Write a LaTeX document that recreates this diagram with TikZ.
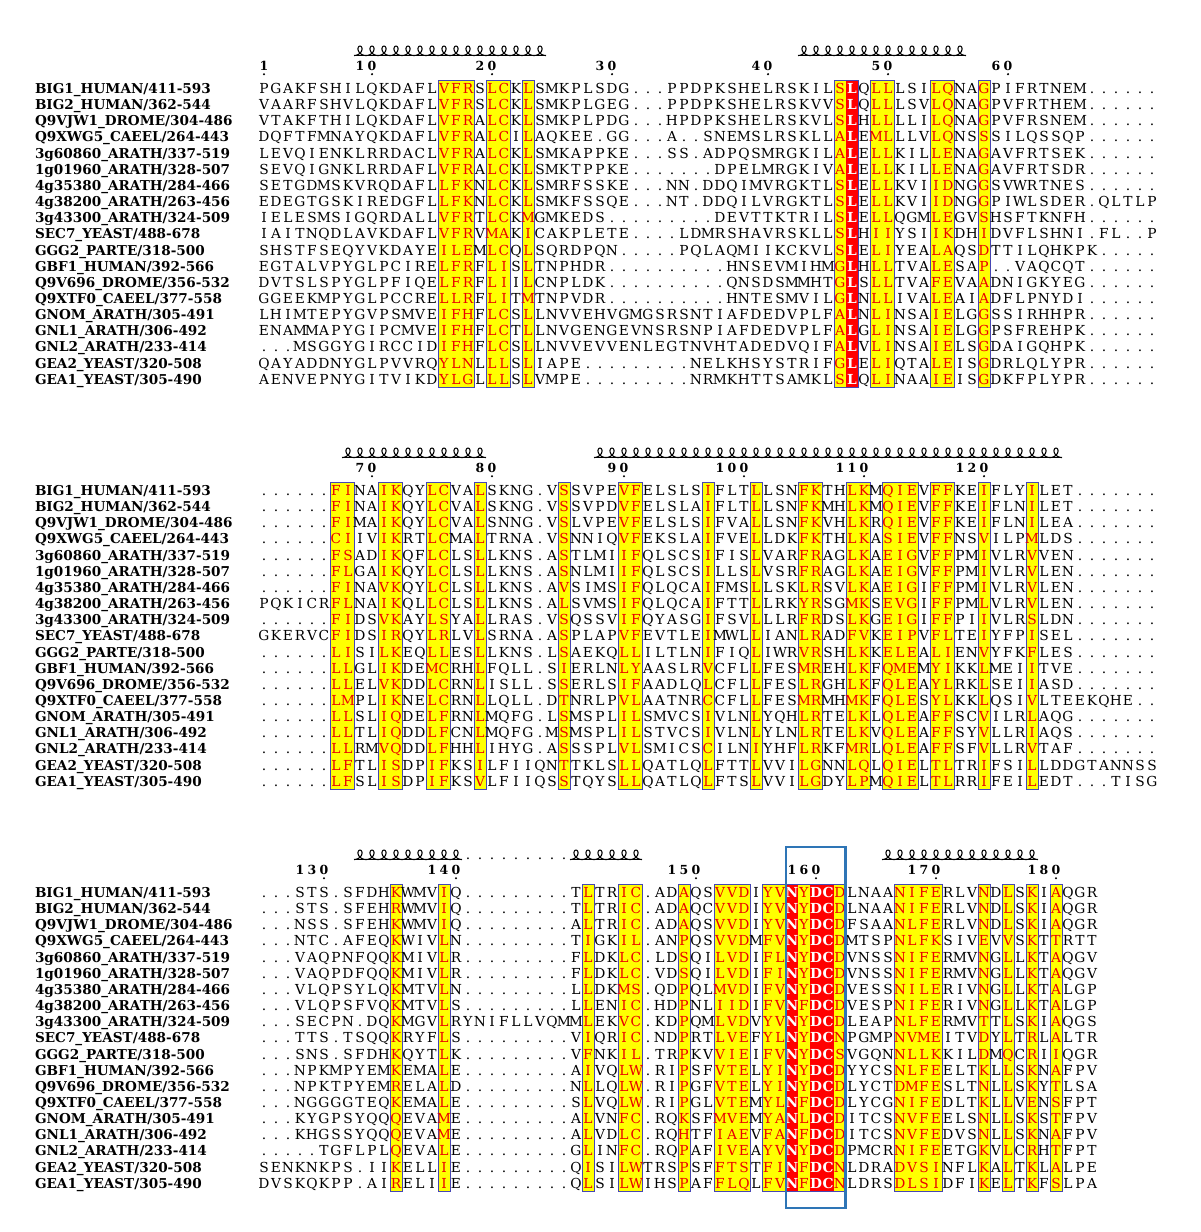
\documentclass[tikz,border=0pt]{standalone}
\usepackage{fontspec}
\newfontfamily\seqfont{DejaVu Serif}
\definecolor{seqred}{RGB}{255,0,0}
\definecolor{letred}{RGB}{235,0,0}
\definecolor{seqyellow}{RGB}{255,255,0}
\definecolor{framecol}{RGB}{70,70,180}
\definecolor{bigboxcol}{RGB}{46,117,182}
\newcount\colidx
\def\cw{12pt}
\def\curblk{b1}
\def\resout#1{\makebox[\cw]{\csname rc@\curblk @\the\colidx\endcsname #1}}
\def\seqloop#1{\ifx#1\relax\else\advance\colidx by 1\relax\resout{#1}\expandafter\seqloop\fi}
\def\seqrow#1{\colidx=0\relax\expandafter\seqloop#1\relax}
\def\numloop#1{\ifx#1\relax\else\makebox[\cw]{#1}\expandafter\numloop\fi}
\def\numrow#1{\expandafter\numloop#1\relax}
\newcommand\setcols[3]{\foreach \cc in {#2}{\expandafter\gdef\csname rc@#1@\cc\endcsname{#3}}}
\setcols{b1}{16,17,18,20,21,23,49,52,53,57,58,61}{\color{letred}}
\setcols{b1}{50}{\color{white}\bfseries}
\setcols{b2}{7,8,11,12,15,16,19,26,31,32,38,42,46,47,50,51,53,54,55,57,58,61,65}{\color{letred}}
\setcols{b3}{12,16,28,31,32,36,39,40,41,43,44,46,49,54,55,56,57,61,63,65,67}{\color{letred}}
\setcols{b3}{45,47,48}{\color{white}\bfseries}
\tikzset{
  seqtext/.style={inner sep=0pt, outer sep=0pt, font=\seqfont\fontsize{13.8}{13.8}\selectfont},
  nametext/.style={inner sep=0pt, outer sep=0pt, font=\seqfont\bfseries\fontsize{13.6}{13.6}\selectfont},
  numtext/.style={inner sep=0pt, outer sep=0pt, font=\seqfont\bfseries\fontsize{12.5}{12.5}\selectfont},
  framestyle/.style={draw=framecol, line width=0.9pt},
  helixline/.style={draw=black, line width=1.1pt},
}
\newcommand\colfill[4]{\fill[#1] ({258+(#3-1)*12},{#2-12.6}) rectangle ({258+#4*12},{#2+18*16.15+3.55});}
\newcommand\colframe[3]{\draw[framestyle] ({258+(#2-1)*12},{#1-12.6}) rectangle ({258+#3*12},{#1+18*16.15+3.55});}
\newcommand\helixcoil[3]{%
  \draw[helixline] ({258+(#2-1)*12},#1) -- ({258+#3*12},#1);
  \foreach \k in {#2,...,#3}{\draw[helixline] plot[domain=0:360,samples=49,smooth,variable=\t] ({258+(\k-1)*12+12*\t/360+4.6*sin(\t)},{#1-4.7*(1-cos(\t))});}}
\newcommand\blocknumbers[2]{%
  \foreach \n/\c in {#2}{%
    \node[numtext, anchor=base east] (num-\n) at ({258+\c*12},{#1-23}) {\numrow{\n}};
    \fill ({258+(\c-0.5)*12},{#1-19.3}) circle (1.2pt);}}
\newcommand\blocknames[2]{%
  \foreach \nm [count=\i] in \namelist{%
    \node[nametext, anchor=base west] (nm#2-\i) at (35,{#1+(\i-1)*16.15}) {\nm};}}
\newcommand\sqline[4]{\node[seqtext, anchor=base west] (sq#1-#2) at (258,{#3+(#2-1)*16.15}) {\seqrow{#4}};}
\def\namelist{BIG1\_HUMAN/411-593,BIG2\_HUMAN/362-544,Q9VJW1\_DROME/304-486,Q9XWG5\_CAEEL/264-443,3g60860\_ARATH/337-519,1g01960\_ARATH/328-507,4g35380\_ARATH/284-466,4g38200\_ARATH/263-456,3g43300\_ARATH/324-509,SEC7\_YEAST/488-678,GGG2\_PARTE/318-500,GBF1\_HUMAN/392-566,Q9V696\_DROME/356-532,Q9XTF0\_CAEEL/377-558,GNOM\_ARATH/305-491,GNL1\_ARATH/306-492,GNL2\_ARATH/233-414,GEA2\_YEAST/320-508,GEA1\_YEAST/305-490}
\begin{document}
\begin{tikzpicture}[x=1pt,y=-1pt]
\useasboundingbox[fill=white] (0,0) rectangle (1200,1232);
% ================= block 1 =================
\foreach \a/\b in {16/18,20/21,23/23,49/50,52/53,57/58,61/61}{\colfill{seqyellow}{93.5}{\a}{\b}}
\colfill{seqred}{93.5}{50}{50}
\foreach \a/\b in {16/18,20/21,23/23,49/50,52/53,57/58,61/61}{\colframe{93.5}{\a}{\b}}
\helixcoil{55.5}{9}{24}
\helixcoil{55.5}{46}{59}
\blocknumbers{93.5}{1/1,10/10,20/20,30/30,40/43,50/53,60/63}
\blocknames{93.5}{a}
\def\curblk{b1}
\sqline{a}{1}{93.5}{PGAKFSHILQKDAFLVFRSLCKLSMKPLSDG...PPDPKSHELRSKILSLQLLLSILQNAGPIFRTNEM......}
\sqline{a}{2}{93.5}{VAARFSHVLQKDAFLVFRSLCKLSMKPLGEG...PPDPKSHELRSKVVSLQLLLSVLQNAGPVFRTHEM......}
\sqline{a}{3}{93.5}{VTAKFTHILQKDAFLVFRALCKLSMKPLPDG...HPDPKSHELRSKVLSLHLLLLILQNAGPVFRSNEM......}
\sqline{a}{4}{93.5}{DQFTFMNAYQKDAFLVFRALCILAQKEE.GG...A..SNEMSLRSKLLALEMLLLVLQNSSSILQSSQP......}
\sqline{a}{5}{93.5}{LEVQIENKLRRDACLVFRALCKLSMKAPPKE...SS.ADPQSMRGKILALELLKILLENAGAVFRTSEK......}
\sqline{a}{6}{93.5}{SEVQIGNKLRRDAFLVFRALCKLSMKTPPKE.......DPELMRGKIVALELLKILLENAGAVFRTSDR......}
\sqline{a}{7}{93.5}{SETGDMSKVRQDAFLLFKNLCKLSMRFSSKE...NN.DDQIMVRGKTLSLELLKVIIDNGGSVWRTNES......}
\sqline{a}{8}{93.5}{EDEGTGSKIREDGFLLFKNLCKLSMKFSSQE...NT.DDQILVRGKTLSLELLKVIIDNGGPIWLSDER.QLTLP}
\sqline{a}{9}{93.5}{IELESMSIGQRDALLVFRTLCKMGMKEDS.........DEVTTKTRILSLELLQGMLEGVSHSFTKNFH......}
\sqline{a}{10}{93.5}{IAITNQDLAVKDAFLVFRVMAKICAKPLETE....LDMRSHAVRSKLLSLHIIYSIIKDHIDVFLSHNI.FL..P}
\sqline{a}{11}{93.5}{SHSTFSEQYVKDAYEILEMLCQLSQRDPQN.....PQLAQMIIKCKVLSLELIYEALAQSDTTILQHKPK.....}
\sqline{a}{12}{93.5}{EGTALVPYGLPCIRELFRFLISLTNPHDR..........HNSEVMIHMGLHLLTVALESAP..VAQCQT......}
\sqline{a}{13}{93.5}{DVTSLSPYGLPFIQELFRFLIILCNPLDK..........QNSDSMMHTGLSLLTVAFEVAADNIGKYEG......}
\sqline{a}{14}{93.5}{GGEEKMPYGLPCCRELLRFLITMTNPVDR..........HNTESMVILGLNLLIVALEAIADFLPNYDI......}
\sqline{a}{15}{93.5}{LHIMTEPYGVPSMVEIFHFLCSLLNVVEHVGMGSRSNTIAFDEDVPLFALNLINSAIELGGSSIRHHPR......}
\sqline{a}{16}{93.5}{ENAMMAPYGIPCMVEIFHFLCTLLNVGENGEVNSRSNPIAFDEDVPLFALGLINSAIELGGPSFREHPK......}
\sqline{a}{17}{93.5}{...MSGGYGIRCCIDIFHFLCSLLNVVEVVENLEGTNVHTADEDVQIFALVLINSAIELSGDAIGQHPK......}
\sqline{a}{18}{93.5}{QAYADDNYGLPVVRQYLNLLLSLIAPE.........NELKHSYSTRIFGLELIQTALEISGDRLQLYPR......}
\sqline{a}{19}{93.5}{AENVEPNYGITVIKDYLGLLLSLVMPE.........NRMKHTTSAMKLSLQLINAAIEISGDKFPLYPR......}
% ================= block 2 =================
\foreach \a/\b in {7/8,11/12,15/16,19/19,26/26,31/32,38/38,42/42,46/47,50/51,53/55,57/58,61/61,65/65}{\colfill{seqyellow}{495.5}{\a}{\b}}
\foreach \a/\b in {7/8,11/12,15/16,19/19,26/26,31/32,38/38,42/42,46/47,50/51,53/55,57/58,61/61,65/65}{\colframe{495.5}{\a}{\b}}
\helixcoil{457.5}{8}{19}
\helixcoil{457.5}{29}{67}
\blocknumbers{495.5}{70/10,80/20,90/31,100/41,110/51,120/61}
\blocknames{495.5}{b}
\def\curblk{b2}
\sqline{b}{1}{495.5}{......FINAIKQYLCVALSKNG.VSSVPEVFELSLSIFLTLLSNFKTHLKMQIEVFFKEIFLYILET.......}
\sqline{b}{2}{495.5}{......FINAIKQYLCVALSKNG.VSSVPDVFELSLAIFLTLLSNFKMHLKMQIEVFFKEIFLNILET.......}
\sqline{b}{3}{495.5}{......FIMAIKQYLCVALSNNG.VSLVPEVFELSLSIFVALLSNFKVHLKRQIEVFFKEIFLNILEA.......}
\sqline{b}{4}{495.5}{......CIIVIKRTLCMALTRNA.VSNNIQVFEKSLAIFVELLDKFKTHLKASIEVFFNSVILPMLDS.......}
\sqline{b}{5}{495.5}{......FSADIKQFLCLSLLKNS.ASTLMIIFQLSCSIFISLVARFRAGLKAEIGVFFPMIVLRVVEN.......}
\sqline{b}{6}{495.5}{......FLGAIKQYLCLSLLKNS.ASNLMIIFQLSCSILLSLVSRFRAGLKAEIGVFFPMIVLRVLEN.......}
\sqline{b}{7}{495.5}{......FINAVKQYLCLSLLKNS.AVSIMSIFQLQCAIFMSLLSKLRSVLKAEIGIFFPMIVLRVLEN.......}
\sqline{b}{8}{495.5}{PQKICRFLNAIKQLLCLSLLKNS.ALSVMSIFQLQCAIFTTLLRKYRSGMKSEVGIFFPMLVLRVLEN.......}
\sqline{b}{9}{495.5}{......FIDSVKAYLSYALLRAS.VSQSSVIFQYASGIFSVLLLRFRDSLKGEIGIFFPIIVLRSLDN.......}
\sqline{b}{10}{495.5}{GKERVCFIDSIRQYLRLVLSRNA.ASPLAPVFEVTLEIMWLLIANLRADFVKEIPVFLTEIYFPISEL.......}
\sqline{b}{11}{495.5}{......LISILKEQLLESLLKNS.LSAEKQLLILTLNIFIQLIWRVRSHLKKELEALIENVYFKFLES.......}
\sqline{b}{12}{495.5}{......LLGLIKDEMCRHLFQLL.SIERLNLYAASLRVCFLLFESMREHLKFQMEMYIKKLMEIITVE.......}
\sqline{b}{13}{495.5}{......LLELVKDDLCRNLISLL.SSERLSIFAADLQLCFLLFESLRGHLKFQLEAYLRKLSEIIASD.......}
\sqline{b}{14}{495.5}{......LMPLIKNELCRNLLQLL.DTNRLPVLAATNRCCFLLFESMRMHMKFQLESYLKKLQSIVLTEEKQHE..}
\sqline{b}{15}{495.5}{......LLSLIQDELFRNLMQFG.LSMSPLILSMVCSIVLNLYQHLRTELKLQLEAFFSCVILRLAQG.......}
\sqline{b}{16}{495.5}{......LLTLIQDDLFCNLMQFG.MSMSPLILSTVCSIVLNLYLNLRTELKVQLEAFFSYVLLRIAQS.......}
\sqline{b}{17}{495.5}{......LLRMVQDDLFHHLIHYG.ASSSPLVLSMICSCILNIYHFLRKFMRLQLEAFFSFVLLRVTAF.......}
\sqline{b}{18}{495.5}{......LFTLISDPIFKSILFIIQNTTKLSLLQATLQLFTTLVVILGNNLQLQIELTLTRIFSILLDDGTANNSS}
\sqline{b}{19}{495.5}{......LFSLISDPIFKSVLFIIQSSTQYSLLQATLQLFTSLVVILGDYLPMQIELTLRRIFEILEDT...TISG}
% ================= block 3 =================
\foreach \a/\b in {12/12,16/16,28/28,31/32,36/36,39/41,43/49,54/57,61/61,63/63,65/65,67/67}{\colfill{seqyellow}{897.5}{\a}{\b}}
\colfill{seqred}{897.5}{45}{45}
\colfill{seqred}{897.5}{47}{48}
\foreach \a/\b in {12/12,16/16,28/28,31/32,36/36,39/41,43/49,54/57,61/61,63/63,65/65,67/67}{\colframe{897.5}{\a}{\b}}
\helixcoil{859.5}{9}{17}
\node[seqtext, anchor=base west] (turn3) at ({258+17*12},859.5) {\numrow{.........}};
\helixcoil{859.5}{27}{32}
\helixcoil{859.5}{53}{65}
\blocknumbers{897.5}{130/6,140/17,150/37,160/47,170/57,180/67}
\blocknames{897.5}{c}
\def\curblk{b3}
\sqline{c}{1}{897.5}{...STS.SFDHKWMVIQ.........TLTRIC.ADAQSVVDIYVNYDCDLNAANIFERLVNDLSKIAQGR}
\sqline{c}{2}{897.5}{...STS.SFEHRWMVIQ.........TLTRIC.ADAQCVVDIYVNYDCDLNAANIFERLVNDLSKIAQGR}
\sqline{c}{3}{897.5}{...NSS.SFEHKWMVIQ.........ALTRIC.ADAQSVVDIYVNYDCDFSAANLFERLVNDLSKIAQGR}
\sqline{c}{4}{897.5}{...NTC.AFEQKWIVLN.........TIGKIL.ANPQSVVDMFVNYDCDMTSPNLFKSIVEVVSKTTRTT}
\sqline{c}{5}{897.5}{...VAQPNFQQKMIVLR.........FLDKLC.LDSQILVDIFLNYDCDVNSSNIFERMVNGLLKTAQGV}
\sqline{c}{6}{897.5}{...VAQPDFQQKMIVLR.........FLDKLC.VDSQILVDIFINYDCDVNSSNIFERMVNGLLKTAQGV}
\sqline{c}{7}{897.5}{...VLQPSYLQKMTVLN.........LLDKMS.QDPQLMVDIFVNYDCDVESSNILERIVNGLLKTALGP}
\sqline{c}{8}{897.5}{...VLQPSFVQKMTVLS.........LLENIC.HDPNLIIDIFVNFDCDVESPNIFERIVNGLLKTALGP}
\sqline{c}{9}{897.5}{...SECPN.DQKMGVLRYNIFLLVQMMLEKVC.KDPQMLVDVYVNYDCDLEAPNLFERMVTTLSKIAQGS}
\sqline{c}{10}{897.5}{...TTS.TSQQKRYFLS.........VIQRIC.NDPRTLVEFYLNYDCNPGMPNVMEITVDYLTRLALTR}
\sqline{c}{11}{897.5}{...SNS.SFDHKQYTLK.........VFNKIL.TRPKVVIEIFVNYDCSVGQNNLLKKILDMQCRIIQGR}
\sqline{c}{12}{897.5}{...NPKMPYEMKEMALE.........AIVQLW.RIPSFVTELYINYDCDYYCSNLFEELTKLLSKNAFPV}
\sqline{c}{13}{897.5}{...NPKTPYEMRELALD.........NLLQLW.RIPGFVTELYINYDCDLYCTDMFESLTNLLSKYTLSA}
\sqline{c}{14}{897.5}{...NGGGGTEQKEMALE.........SLVQLW.RIPGLVTEMYLNFDCDLYCGNIFEDLTKLLVENSFPT}
\sqline{c}{15}{897.5}{...KYGPSYQQQEVAME.........ALVNFC.RQKSFMVEMYANLDCDITCSNVFEELSNLLSKSTFPV}
\sqline{c}{16}{897.5}{...KHGSSYQQQEVAME.........ALVDLC.RQHTFIAEVFANFDCDITCSNVFEDVSNLLSKNAFPV}
\sqline{c}{17}{897.5}{.....TGFLPLQEVALE.........GLINFC.RQPAFIVEAYVNYDCDPMCRNIFEETGKVLCRHTFPT}
\sqline{c}{18}{897.5}{SENKNKPS.IIKELLIE.........QISILWTRSPSFFTSTFINFDCNLDRADVSINFLKALTKLALPE}
\sqline{c}{19}{897.5}{DVSKQKPP.AIRELIIE.........QLSILWIHSPAFFLQLFVNFDCNLDRSDLSIDFIKELTKFSLPA}
\draw[bigboxcol, line width=2.6pt] (786,847) rectangle (845.5,1208);
\end{tikzpicture}
\end{document}
